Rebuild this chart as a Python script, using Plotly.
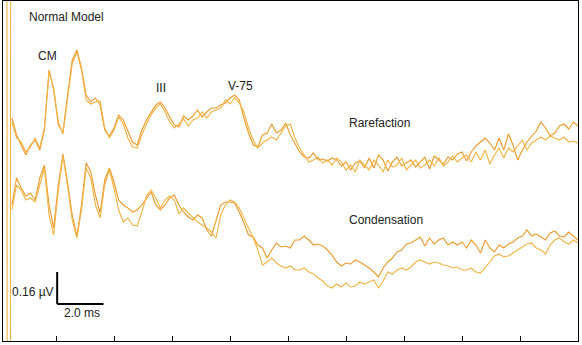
import numpy as np
import plotly.graph_objects as go

# ---- data (time in ms, amplitude in µV) ----
T_START = 0.6
T_STEP = 0.2

rarefaction_a = [
    0.16, 0.075,
    0.025, -0.025, 0.025, 0.05, 0.0,
    0.10, 0.40, 0.30, 0.125, 0.09,
    0.275, 0.45, 0.50, 0.41, 0.275,
    0.24, 0.26, 0.225, 0.10, 0.07,
    0.11, 0.175, 0.15, 0.09, 0.04,
    0.025, 0.10, 0.15, 0.19, 0.225,
    0.24, 0.21, 0.165, 0.125, 0.115,
    0.17, 0.15, 0.17, 0.20, 0.165,
    0.19, 0.21, 0.21, 0.225, 0.235,
    0.26, 0.275, 0.25, 0.16, 0.085,
    0.025, 0.015, 0.075, 0.085, 0.13,
    0.085, 0.10, 0.135, 0.075, 0.03,
    -0.01, -0.035, -0.04, -0.015, -0.05,
    -0.045, -0.055, -0.04, -0.05, -0.08,
    -0.06, -0.10, -0.065, -0.055, -0.09,
    -0.04, -0.09, -0.025, -0.05, -0.105,
    -0.06, -0.035, -0.08, -0.065, -0.05,
    -0.085, -0.06, -0.035, -0.095, -0.03,
    -0.05, -0.07, -0.035, -0.05, -0.02,
    -0.01, -0.055, -0.01, 0.02, 0.04,
    0.06, 0.035, 0.0, 0.06, 0.0,
    0.08, 0.025, -0.05, 0.0, 0.04,
    0.065, 0.095, 0.14, 0.11, 0.07,
    0.085, 0.12, 0.13, 0.105, 0.14,
    0.12,
]

rarefaction_b = [
    0.14, 0.06,
    0.04, -0.01, 0.015, 0.06, 0.01,
    0.11, 0.39, 0.31, 0.14, 0.08,
    0.26, 0.43, 0.49, 0.40, 0.25,
    0.23, 0.24, 0.245, 0.11, 0.06,
    0.10, 0.165, 0.13, 0.06, 0.015,
    0.01, 0.075, 0.13, 0.175, 0.21,
    0.23, 0.19, 0.14, 0.11, 0.13,
    0.155, 0.12, 0.15, 0.16, 0.19,
    0.16, 0.19, 0.20, 0.21, 0.25,
    0.23, 0.26, 0.235, 0.19, 0.11,
    0.05, 0.01, 0.035, 0.05, 0.065,
    0.05, 0.085, 0.12, 0.13, 0.06,
    0.01, -0.025, -0.06, -0.05, -0.035,
    -0.065, -0.05, -0.075, -0.04, -0.06,
    -0.10, -0.075, -0.11, -0.05, -0.075,
    -0.10, -0.05, -0.075, -0.11, -0.05,
    -0.085, -0.075, -0.04, -0.10, -0.075,
    -0.05, -0.09, -0.075, -0.05, -0.08,
    -0.04, -0.08, -0.06, -0.03, -0.06,
    -0.04, -0.025, -0.06, -0.01, -0.05,
    0.0, -0.07, -0.025, 0.01, -0.04,
    0.01, -0.01, 0.02, 0.05, 0.0,
    0.035, 0.05, 0.065, 0.05, 0.07,
    0.06, 0.05, 0.065, 0.04, 0.045,
    0.035,
]

condensation_a = [
    0.175, 0.31,
    0.26, 0.22, 0.235, 0.20, 0.31,
    0.375, 0.175, 0.06, 0.275, 0.43,
    0.285, 0.125, 0.02, 0.175, 0.385,
    0.34, 0.225, 0.135, 0.30, 0.36,
    0.29, 0.20, 0.175, 0.16, 0.14,
    0.15, 0.175, 0.21, 0.24, 0.175,
    0.15, 0.175, 0.21, 0.225, 0.175,
    0.14, 0.115, 0.10, 0.125, 0.11,
    0.05, 0.02, 0.10, 0.175, 0.19,
    0.19, 0.185, 0.14, 0.085, 0.025,
    0.015, -0.025, -0.04, -0.09, -0.05,
    -0.015, -0.035, -0.03, -0.04, 0.0,
    0.0, 0.02, 0.0, -0.025, -0.02,
    -0.03, -0.05, -0.075, -0.11, -0.13,
    -0.115, -0.12, -0.10, -0.11, -0.125,
    -0.14, -0.16, -0.185, -0.14, -0.11,
    -0.09, -0.06, -0.05, -0.02, -0.015,
    0.0, 0.015, -0.03, 0.01, -0.02,
    0.0, 0.01, -0.025, -0.01, -0.025,
    -0.01, -0.04, 0.0, -0.025, -0.065,
    0.0, -0.04, -0.06, -0.025, -0.04,
    -0.02, -0.01, 0.01, 0.02, 0.05,
    0.02, 0.03, 0.015, 0.0, 0.035,
    0.045, 0.02, 0.015, 0.04, 0.02,
    0.0,
]

condensation_b = [
    0.15, 0.275,
    0.25, 0.20, 0.21, 0.19, 0.275,
    0.36, 0.125, 0.025, 0.25, 0.42,
    0.27, 0.10, 0.01, 0.15, 0.36,
    0.31, 0.175, 0.11, 0.275, 0.35,
    0.26, 0.15, 0.09, 0.11, 0.075,
    0.07, 0.14, 0.22, 0.25, 0.21,
    0.16, 0.20, 0.22, 0.20, 0.13,
    0.16, 0.135, 0.11, 0.09, 0.075,
    0.06, 0.04, 0.01, 0.125, 0.175,
    0.20, 0.19, 0.16, 0.11, 0.06,
    0.01, -0.05, -0.125, -0.11, -0.09,
    -0.115, -0.13, -0.14, -0.13, -0.15,
    -0.15, -0.14, -0.16, -0.17, -0.19,
    -0.205, -0.23, -0.24, -0.22, -0.235,
    -0.215, -0.235, -0.23, -0.21, -0.22,
    -0.21, -0.20, -0.24, -0.205, -0.16,
    -0.17, -0.15, -0.14, -0.15, -0.135,
    -0.11, -0.10, -0.11, -0.12, -0.11,
    -0.115, -0.125, -0.13, -0.14, -0.135,
    -0.15, -0.15, -0.14, -0.16, -0.165,
    -0.14, -0.11, -0.08, -0.07, -0.085,
    -0.08, -0.065, -0.05, -0.035, -0.02,
    -0.015, -0.04, -0.05, -0.07, -0.025,
    0.0, 0.01, -0.01, -0.02, 0.0,
    -0.015,
]

# stimulus artifact (off-scale deflection at onset)
artifact_t = [0.38, 0.40, 0.53, 0.55]
artifact_v = [2.0, -2.0, -2.0, 2.0]

tick_ms = [2.5, 5.0, 7.5, 10.0, 12.5, 15.0, 17.5, 20.0, 22.5]
scale_ms = 2.0
scale_uv = 0.16

labels = ["Normal Model", "CM", "III", "V-75", "Rarefaction", "Condensation"]

# ---- layout helpers ----
W, H = 582, 345
L, R, TOP, B = 3, 4, 1, 4
X_RANGE = [0.2155, 25.0]
Y_RANGE = [-0.955, 0.745]
R_OFFSET = 0.0
C_OFFSET = -0.45


def px_x(px):
    return (px - L) / (W - L - R)


def px_y(py):
    return (H - B - py) / (H - TOP - B)


n = len(rarefaction_a)
assert all(len(s) == n for s in (rarefaction_b, condensation_a, condensation_b))
t = T_START + T_STEP * np.arange(n)

c_dark = "#EC9C30"
c_light = "#F2B548"

fig = go.Figure()
fig.add_trace(go.Scatter(x=artifact_t, y=artifact_v, mode="lines",
                         line=dict(color=c_light, width=1.1)))
for vals, off, col in [
    (rarefaction_a, R_OFFSET, c_dark),
    (rarefaction_b, R_OFFSET, c_light),
    (condensation_a, C_OFFSET, c_dark),
    (condensation_b, C_OFFSET, c_light),
]:
    fig.add_trace(go.Scatter(x=t, y=np.array(vals) + off, mode="lines",
                             line=dict(color=col, width=1.15)))

# scale bar
x0 = 2.55
y0 = -0.77
fig.add_shape(type="line", x0=x0, x1=x0, y0=y0, y1=y0 + scale_uv,
              xref="x", yref="y", line=dict(color="black", width=2))
fig.add_shape(type="line", x0=x0, x1=x0 + scale_ms, y0=y0, y1=y0,
              xref="x", yref="y", line=dict(color="black", width=2))

font = dict(family="Liberation Sans, Arial, sans-serif", size=12, color="#222222")
ann = [
    (labels[0], 27, 17, "left"),
    (labels[1], 47, 56, "center"),
    (labels[2], 161, 88, "center"),
    (labels[3], 240, 86, "center"),
    (labels[4], 347, 123, "left"),
    (labels[5], 347, 220, "left"),
    (f"{scale_uv:.2f} µV", 10, 292, "left"),
    (f"{scale_ms:.1f} ms", 82, 313, "center"),
]
for text, ax, ay, anchor in ann:
    fig.add_annotation(text=text, x=px_x(ax), y=px_y(ay), xref="paper",
                       yref="paper", xanchor=anchor, yanchor="middle",
                       showarrow=False, font=font)

fig.update_layout(
    width=W, height=H,
    margin=dict(l=L, r=R, t=TOP, b=B, pad=0),
    paper_bgcolor="white", plot_bgcolor="white",
    showlegend=False,
)
fig.update_xaxes(range=X_RANGE, showgrid=False, zeroline=False,
                 showline=True, mirror=True, linecolor="black", linewidth=1,
                 ticks="inside", ticklen=5, tickcolor="black", tickwidth=1,
                 tickvals=tick_ms, showticklabels=False)
fig.update_yaxes(range=Y_RANGE, showgrid=False, zeroline=False,
                 showline=True, mirror=True, linecolor="black", linewidth=1,
                 ticks="", showticklabels=False)

fig.write_html("out.html")
